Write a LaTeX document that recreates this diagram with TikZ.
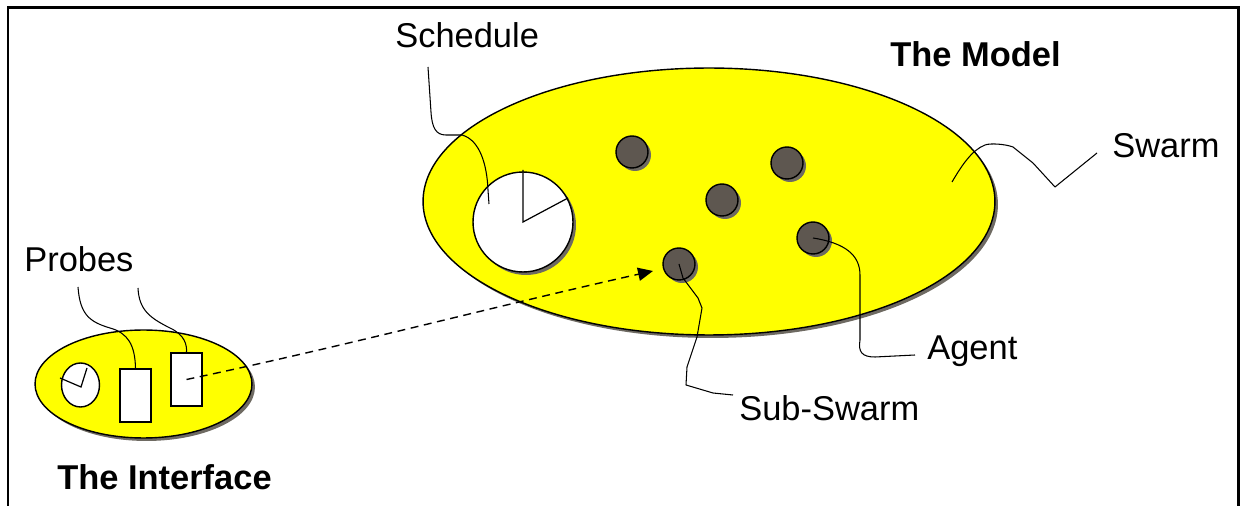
\documentclass[tikz,border=0pt]{standalone}
\usepackage{fontspec}
\setmainfont{Liberation Sans}
\usetikzlibrary{shapes.geometric,arrows.meta}
\definecolor{swarmyellow}{RGB}{255,255,0}
\definecolor{agentfill}{RGB}{94,87,80}
\definecolor{shadowgray}{RGB}{110,106,98}
\tikzset{
  px/.style={x=0.02cm,y=0.02cm},
  outline/.style={draw=black,line width=0.8pt},
  swarmbody/.style={ellipse,outline,fill=swarmyellow,inner sep=0pt},
  shadowbody/.style={ellipse,fill=shadowgray,draw=none,inner sep=0pt},
  agentdot/.style={circle,outline,fill=agentfill,inner sep=0pt,minimum size=0.64cm},
  agentshadow/.style={circle,fill=shadowgray,draw=none,inner sep=0pt,minimum size=0.64cm},
  probebox/.style={rectangle,outline,fill=white,inner sep=0pt,minimum width=0.62cm,minimum height=1.06cm},
  leader/.style={draw=black,line width=0.6pt,line join=round},
  txtlabel/.style={inner sep=0pt,anchor=base west,font=\fontsize{19.6}{23}\selectfont},
  titletext/.style={inner sep=0pt,anchor=base west,font=\fontsize{19.6}{23}\selectfont\bfseries},
  probelink/.style={draw=black,line width=0.8pt,dash pattern=on 4.5pt off 3.2pt,
    -{Triangle[length=8.5pt,width=7.5pt]}},
  frameline/.style={draw=black,line width=1.7pt}
}
\begin{document}
\begin{tikzpicture}[px]
\useasboundingbox (0,0) rectangle (1242,-506);
% open frame (no bottom edge)
\draw[frameline] (8,-506) -- (8,-7.5) -- (1238.5,-7.5) -- (1238.5,-506);

% ---- the model swarm ----
\node[shadowbody,minimum width=11.44cm,minimum height=5.34cm] at (712,-204.5) {};
\node[swarmbody,minimum width=11.44cm,minimum height=5.34cm] (model) at (709,-201.5) {};

% schedule clock
\node[shadowbody,circle,minimum size=2cm] at (526,-225) {};
\node[circle,outline,fill=white,inner sep=0pt,minimum size=2cm] (sched) at (523,-222) {};
\draw[line width=0.7pt] (523,-170) -- (sched.center) -- (568,-198);

% agents
\foreach \n/\x/\y in {a1/632/152, a2/787/163, a3/722/200, a4/813/238, a5/679/264}{
  \node[agentshadow] at (\x+3,-\y-3) {};
  \node[agentdot] (\n) at (\x,-\y) {};
}

% ---- the interface ----
\node[shadowbody,minimum width=4.34cm,minimum height=2.16cm] at (146.5,-387) {};
\node[swarmbody,minimum width=4.34cm,minimum height=2.16cm] (iface) at (143.5,-384) {};
\node[ellipse,outline,fill=white,inner sep=0pt,minimum width=0.76cm,minimum height=0.88cm] (clock) at (80.5,-385) {};
\draw[line width=0.7pt] (60,-378) -- (81,-387) -- (87,-368);
\node[probebox] (pr1) at (135.5,-395.5) {};
\node[probebox] (pr2) at (186.5,-379.5) {};

% ---- labels ----
\node[txtlabel] (lsched) at (395,-48) {Schedule};
\node[titletext] (lmodel) at (890,-67) {The Model};
\node[txtlabel] (lswarm) at (1112,-158) {Swarm};
\node[txtlabel] (lagent) at (927,-360) {Agent};
\node[txtlabel] (lsub) at (739,-421) {Sub-Swarm};
\node[txtlabel] (lprobes) at (24,-272) {Probes};
\node[titletext] (liface) at (57,-490) {The Interface};

% ---- leaders ----
\coordinate (schedtip) at (489,-204);
\coordinate (swarmtip) at (952,-182);
\draw[leader] (428,-67) -- (431,-112) .. controls (432,-128) and (436,-135) .. (446,-135)
  -- (462,-135) .. controls (480,-140) and (487,-165) .. (488,-190) -- (schedtip);
\draw[leader] (1097,-153) -- (1055,-187) -- (1033,-163) -- (1013,-147)
  .. controls (1005,-144) and (990,-143) .. (985,-145)
  .. controls (972,-150) and (962,-165) .. (swarmtip);
\draw[leader] (915,-355) -- (875,-357) .. controls (862,-357) and (858,-352) .. (860,-340)
  -- (860,-275) .. controls (860,-255) and (845,-243) .. (a4.center);
\draw[leader] (733,-395) -- (713,-393) -- (686,-385) -- (687,-367) -- (697,-337)
  -- (702,-308) -- (698,-298) -- (683,-278) -- (a5.center);
\draw[leader] (78,-287) .. controls (80,-315) and (90,-322) .. (110,-328)
  .. controls (128,-333) and (135,-345) .. (pr1.north);
\draw[leader] (138,-288) .. controls (139,-310) and (150,-318) .. (170,-328)
  .. controls (185,-335) and (187,-345) .. (pr2.north);

% probe link into the model
\draw[probelink] (pr2.center) .. controls (350,-345) and (500,-305) .. (653,-271);
\end{tikzpicture}
\end{document}
